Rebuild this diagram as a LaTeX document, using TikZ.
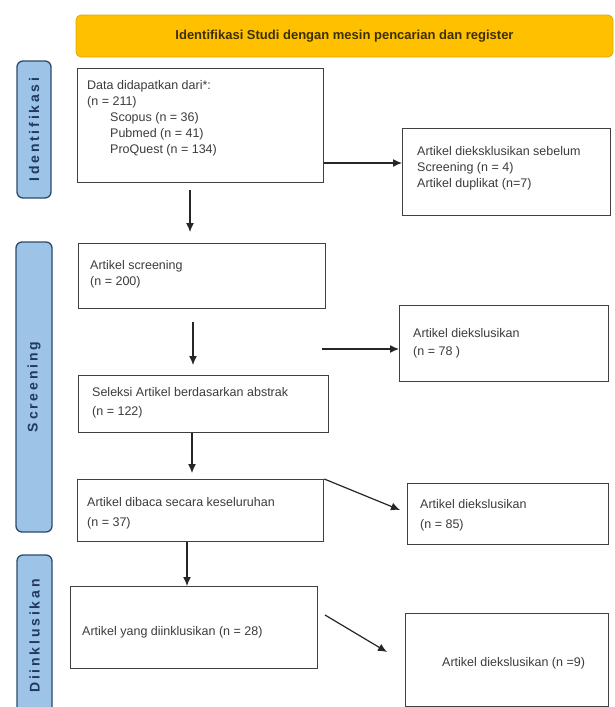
\documentclass[tikz,border=0pt]{standalone}
\usepackage{fontspec}
\setmainfont{Liberation Sans}
\newfontfamily\pillfont[LetterSpace=20]{Liberation Sans}
\usetikzlibrary{arrows.meta}
\definecolor{boxline}{HTML}{404040}
\definecolor{txt}{HTML}{3C3C3C}
\definecolor{pillfill}{HTML}{9DC3E6}
\definecolor{pillline}{HTML}{2E4A6B}
\definecolor{pilltext}{HTML}{1F3864}
\definecolor{bannerfill}{HTML}{FFC000}
\definecolor{bannerline}{HTML}{E0A800}
\definecolor{bannertext}{HTML}{3D3000}
\tikzset{
  stagebox/.style={draw=boxline, line width=1.3pt, fill=white, inner sep=0pt, anchor=north west},
  boxtext/.style={anchor=north west, inner sep=0pt, align=left, text=txt, font=\fontsize{12.5}{16}\selectfont},
  pill/.style={draw=pillline, line width=1.3pt, fill=pillfill, rounded corners=6pt, rotate=90, inner sep=0pt,
    text=pilltext, font=\pillfont\bfseries\fontsize{14}{16}\selectfont},
  banner/.style={draw=bannerline, line width=0.8pt, fill=bannerfill, rounded corners=5pt, inner sep=0pt,
    text=bannertext, font=\bfseries\fontsize{13}{15}\selectfont},
  arr/.style={draw=black!85, line width=1.2pt, -{Latex[length=9pt,width=8pt]}}
}
\begin{document}
\begin{tikzpicture}[x=1pt,y=-1pt]
\fill[white] (0,0) rectangle (614,707);
\useasboundingbox (0,0) rectangle (614,707);

% banner
\node[banner, minimum width=537pt, minimum height=42pt] (ban) at (344.5,36) {Identifikasi Studi dengan mesin pencarian dan register};

% side pills
\node[pill, minimum width=137pt, minimum height=34pt] (p1) at (34,129.5) {Identifikasi};
\node[pill, minimum width=290pt, minimum height=36pt] (p2) at (34,387) {Screening};
\node[pill, minimum width=162pt, minimum height=35pt] (p3) at (34.5,636) {Diinklusikan};

% left column boxes
\node[stagebox, minimum width=246pt, minimum height=114pt] (b1) at (77,68) {};
\node[stagebox, minimum width=247pt, minimum height=65pt] (b2) at (78,243) {};
\node[stagebox, minimum width=250pt, minimum height=57pt] (b3) at (78,375) {};
\node[stagebox, minimum width=246pt, minimum height=62pt] (b4) at (77,479) {};
\node[stagebox, minimum width=247pt, minimum height=82pt] (b5) at (70,586) {};

% right column boxes
\node[stagebox, minimum width=208pt, minimum height=87pt] (r1) at (402,128) {};
\node[stagebox, minimum width=209pt, minimum height=76pt] (r2) at (399,305) {};
\node[stagebox, minimum width=201pt, minimum height=61pt] (r3) at (407,483) {};
\node[stagebox, minimum width=203pt, minimum height=93pt] (r4) at (405,613) {};

% texts
\node[boxtext] (t1) at (87,80) {Data didapatkan dari*:\\(n = 211)\\\hspace{23pt}Scopus (n = 36)\\\hspace{23pt}Pubmed (n = 41)\\\hspace{23pt}ProQuest (n = 134)};
\node[boxtext] (tr1) at (417,146) {Artikel dieksklusikan sebelum\\Screening (n = 4)\\Artikel duplikat (n=7)};
\node[boxtext] (t2) at (90,260) {Artikel screening\\(n = 200)};
\node[boxtext, font=\fontsize{12.5}{19}\selectfont] (t3) at (92,387) {Seleksi Artikel berdasarkan abstrak\\(n = 122)};
\node[boxtext, font=\fontsize{12.5}{18}\selectfont] (tr2) at (413,328) {Artikel diekslusikan\\(n = 78 )};
\node[boxtext, font=\fontsize{12.5}{20}\selectfont] (t4) at (87,497) {Artikel dibaca secara keseluruhan\\(n = 37)};
\node[boxtext, font=\fontsize{12.5}{20}\selectfont] (tr3) at (420,499) {Artikel diekslusikan\\(n = 85)};
\node[boxtext, anchor=west] (t5) at (82,632) {Artikel yang diinklusikan (n = 28)};
\node[boxtext, anchor=west] (tr4) at (442,663) {Artikel diekslusikan (n =9)};

% connectors
\coordinate (y1) at (0,163);
\draw[arr] (b1.east |- y1) -- (r1.west |- y1);
\coordinate (s2) at (322,349);
\draw[arr] (s2) -- (r2.west |- s2);
\coordinate (v1s) at (190,190);
\coordinate (v1e) at (190,232);
\draw[arr] (v1s) -- (v1e);
\coordinate (v2s) at (193,322);
\coordinate (v2e) at (193,365);
\draw[arr] (v2s) -- (v2e);
\coordinate (x3) at (192,473);
\draw[arr] (b3.south -| x3) -- (x3);
\coordinate (x4) at (187,0);
\draw[arr] (b4.south -| x4) -- (b5.north -| x4);
\coordinate (d1e) at (400,510);
\draw[arr] (b4.north east) -- (d1e);
\coordinate (d2s) at (325,615);
\coordinate (d2e) at (387,652);
\draw[arr] (d2s) -- (d2e);
\end{tikzpicture}
\end{document}
